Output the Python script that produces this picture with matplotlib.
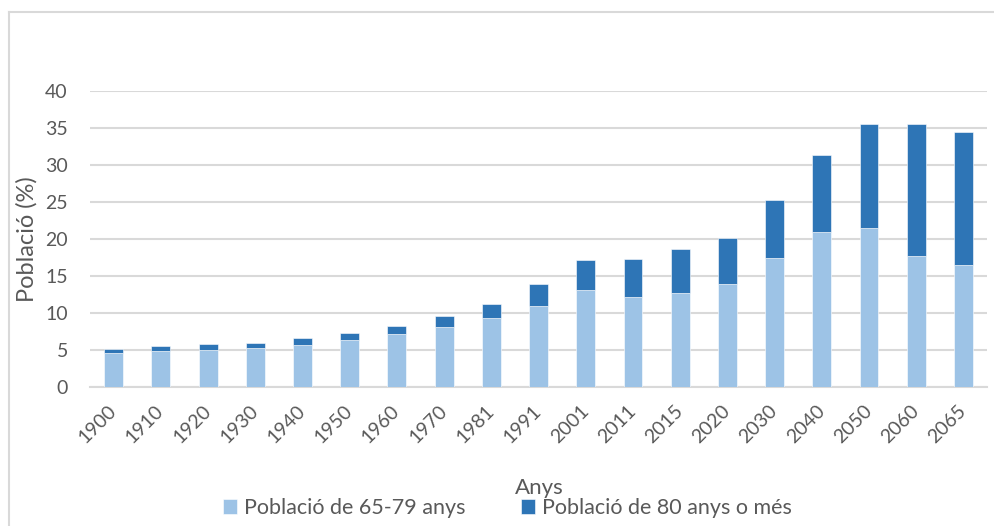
import matplotlib.pyplot as plt
from matplotlib.lines import Line2D

years = ['1900', '1910', '1920', '1930', '1940', '1950', '1960', '1970', '1981', '1991',
         '2001', '2011', '2015', '2020', '2030', '2040', '2050', '2060', '2065']
pob_65_79 = [4.6, 4.9, 5.0, 5.3, 5.7, 6.3, 7.1, 8.1, 9.3, 11.0,
             13.1, 12.1, 12.7, 13.9, 17.4, 21.0, 21.5, 17.7, 16.5]
pob_80_mes = [0.6, 0.7, 0.8, 0.7, 0.9, 1.0, 1.1, 1.5, 1.9, 2.9,
              4.0, 5.2, 6.0, 6.2, 7.9, 10.4, 14.1, 17.8, 18.0]

plt.rcParams['font.family'] = ['Lato', 'DejaVu Sans']
txt_color = '#595959'
grid_color = '#D9D9D9'

fig = plt.figure(figsize=(9.95, 5.26), dpi=100)
ax = fig.add_axes([0.0905, 0.2643, 0.9015, 0.5627])

x = range(len(years))
ax.bar(x, pob_65_79, width=0.4, color='#9DC3E6', edgecolor='white', linewidth=0.4,
       label='Població de 65-79 anys', zorder=3)
ax.bar(x, pob_80_mes, width=0.4, bottom=pob_65_79, color='#2E75B6', edgecolor='white',
       linewidth=0.4, label='Població de 80 anys o més', zorder=3)

ax.set_xlim(-0.5, len(years) - 0.5)
ax.set_ylim(0, 40)
ax.set_yticks(range(0, 41, 5))
ax.yaxis.grid(True, color=grid_color, linewidth=1.5, zorder=0)
for s in ['top', 'right', 'left']:
    ax.spines[s].set_visible(False)
ax.spines['bottom'].set_color(grid_color)
ax.spines['bottom'].set_linewidth(1.5)
ax.tick_params(axis='both', length=0, colors=txt_color, labelsize=14)
ax.tick_params(axis='y', pad=16)
ax.set_xticks(list(x))
ax.set_xticklabels(years, rotation=45, ha='right', va='center', rotation_mode='anchor')
ax.tick_params(axis='x', pad=15)

ax.set_ylabel('Població (%)', fontsize=17, color=txt_color)
ax.yaxis.set_label_coords(-0.058, 0.5)
fig.text(0.542, 1 - 494 / 526, 'Anys', fontsize=16, color=txt_color, ha='center',
         va='baseline')

handles, labels = ax.get_legend_handles_labels()
leg = fig.legend(handles, labels, loc='center', bbox_to_anchor=(0.51, 0.034), ncol=2,
                 frameon=False, fontsize=15.5, handlelength=0.65, handleheight=0.65,
                 handletextpad=0.3, columnspacing=2.6, borderpad=0.1)
for t in leg.get_texts():
    t.set_color(txt_color)

# chart border (top and left edges visible)
fig.add_artist(Line2D([9 / 995, 1], [1 - 11.5 / 526] * 2, color='#D9D9D9', linewidth=1.5,
                      transform=fig.transFigure))
fig.add_artist(Line2D([9 / 995] * 2, [0, 1 - 11.5 / 526], color='#D9D9D9', linewidth=1.5,
                      transform=fig.transFigure))

fig.savefig('out.png', dpi=100)
